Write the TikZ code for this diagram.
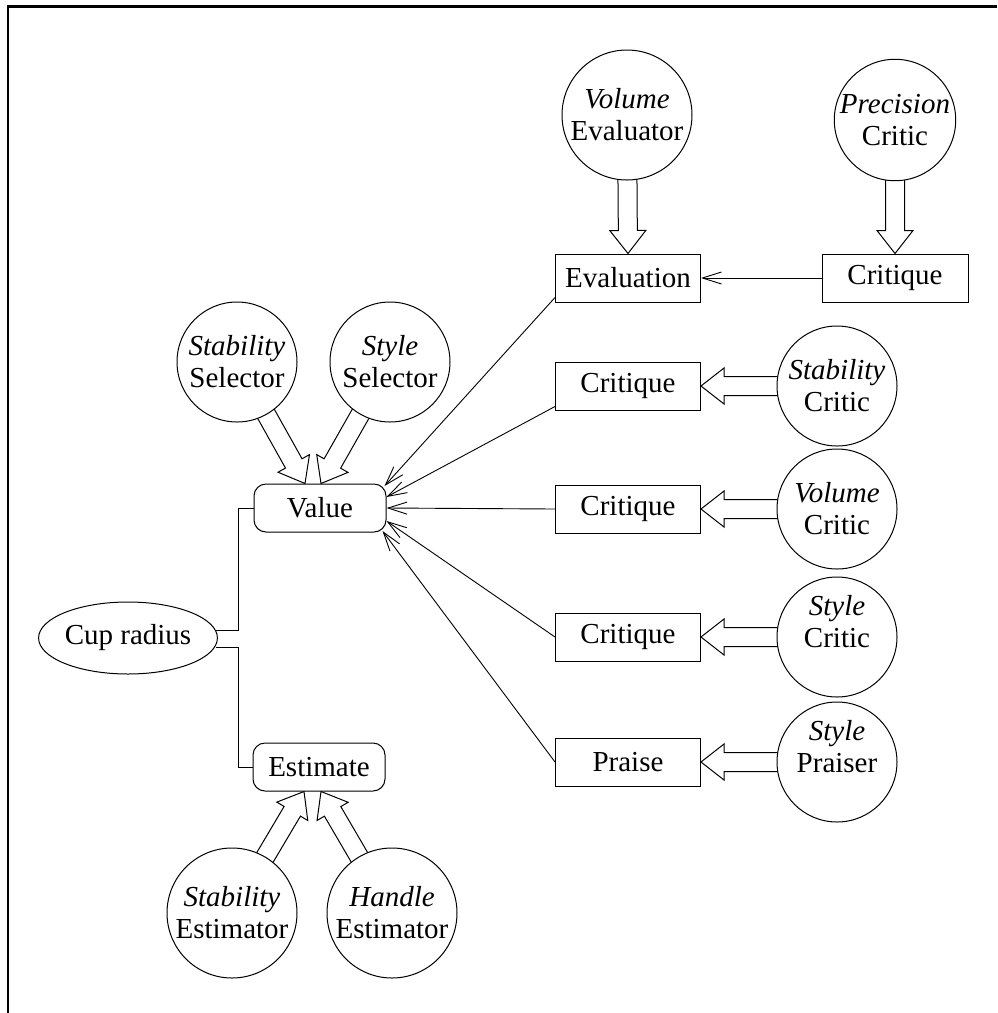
\documentclass[tikz,border=0pt]{standalone}
\usepackage{fontspec}
\setmainfont{Liberation Serif}
\usetikzlibrary{calc,shapes.geometric,arrows.meta}
\pgfdeclarelayer{bg}
\pgfsetlayers{bg,main}

% Hollow "wide" arrow from the centre of #1 to the point #2 (drawn behind the nodes)
\newcommand\fatarrow[2]{%
  \begin{pgfonlayer}{bg}
  \draw[fatline] let \p1=(#1), \p2=(#2),
      \n1={atan2(\y2-\y1,\x2-\x1)},
      \n2={veclen(\x2-\x1,\y2-\y1)} in
    [shift={(\p1)}, rotate=\n1]
    (0pt,9.5pt) -- ({\n2-23pt},9.5pt) -- ({\n2-23pt},18pt) -- (\n2,0pt)
    -- ({\n2-23pt},-18pt) -- ({\n2-23pt},-9.5pt) -- (0pt,-9.5pt);
  \end{pgfonlayer}}

% two-line agent label, drawn #1 higher than its box
\newcommand\liftedlabel[3]{\raisebox{#1}[\height][\depth]{\begin{tabular}{@{}c@{}}#2\\#3\end{tabular}}}

\begin{document}
\begin{tikzpicture}[x=1pt,y=-1pt,
  every node/.style={font=\fontsize{29}{32}\selectfont, line width=1pt},
  agent/.style={circle, draw, fill=white, inner sep=0pt, align=center, minimum size=120pt},
  bigagent/.style={agent, minimum size=130pt},
  msg/.style={rectangle, draw, fill=white, minimum width=145pt, minimum height=48pt, inner sep=0pt},
  param/.style={rectangle, rounded corners=12pt, draw, fill=white, minimum width=132pt, minimum height=48pt, inner sep=0pt},
  link/.style={line width=0.9pt, -{Straight Barb[length=19pt,width=12pt]}},
  fatline/.style={line width=1pt, fill=white, line join=miter},
  tree/.style={line width=1pt}]

\useasboundingbox (0,0) rectangle (997,1013);

% frame
\draw[line width=2.5pt] (997,6.5) -- (8,6.5) -- (8,1013);

% evaluation row
\node[bigagent] (volev) at (627,115) {\textit{Volume}\\Evaluator};
\node[agent] (precc) at (895,120) {\textit{Precision}\\Critic};
\node[msg] (eval) at (628,278) {Evaluation};
\node[msg, minimum width=146pt] (crit1) at (895,278) {Critique};

% selectors and the value
\node[agent] (stabsel) at (237,362) {\textit{Stability}\\Selector};
\node[agent] (stylesel) at (390,362) {\textit{Style}\\Selector};
\node[param] (val) at (320,508) {Value};

% parameter
\node[ellipse, draw, minimum width=170pt, minimum height=72pt, inner sep=0pt] (cup) at (128,638) {Cup radius};

% estimate and estimators
\node[param] (est) at (319,767) {Estimate};
\node[bigagent] (stabest) at (232,913) {\textit{Stability}\\Estimator};
\node[bigagent] (handest) at (392,913) {\textit{Handle}\\Estimator};

% critics on the right
\node[msg] (crit2) at (628,386) {Critique};
\node[agent] (stabc) at (837,386) {\textit{Stability}\\Critic};
\node[msg] (crit3) at (628,509) {Critique};
\node[agent] (volc) at (837,509) {\textit{Volume}\\Critic};
\node[msg] (crit4) at (628,637) {Critique};
\node[agent] (stylec) at (837,637) {\liftedlabel{12pt}{\textit{Style}}{Critic}};
\node[msg] (praise) at (628,762) {Praise};
\node[agent] (stylep) at (837,762) {\liftedlabel{12pt}{\textit{Style}}{Praiser}};

% wide arrows
\fatarrow{volev}{eval.north}
\fatarrow{precc}{crit1.north}
\fatarrow{stabsel}{$(val.north)+(-15,0)$}
\fatarrow{stylesel}{$(val.north)+(1,0)$}
\fatarrow{stabest}{$(est.south)+(-15,0)$}
\fatarrow{handest}{$(est.south)+(2,0)$}
\fatarrow{stabc}{crit2.east}
\fatarrow{volc}{crit3.east}
\fatarrow{stylec}{crit4.east}
\fatarrow{stylep}{praise.east}

% thin arrows
\draw[link] (crit1.west) -- (eval.east);
\draw[link] ($(eval.south west)+(0,-5)$) -- ($(val.east)+(-2,-22)$);
\draw[link] ($(crit2.south west)+(0,-4)$) -- ($(val.east)+(0,-11)$);
\draw[link] (crit3.west) -- (val.east);
\draw[link] (crit4.west) -- ($(val.east)+(0,13)$);
\draw[link] (praise.west) -- ($(val.east)+(-4,23)$);

% tree connectors from the parameter
\draw[tree] ($(cup.east)+(-2,-8)$) -- ++(23,0) |- (val.west);
\draw[tree] ($(cup.east)+(-2,9)$) -- ++(23,0) |- (est.west);
\end{tikzpicture}
\end{document}
